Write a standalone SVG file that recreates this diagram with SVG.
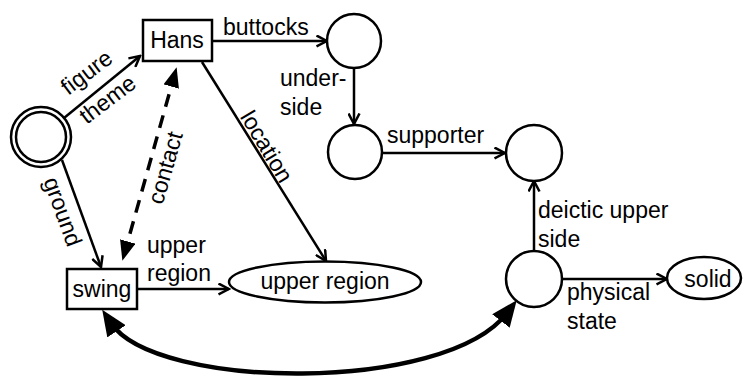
<svg xmlns="http://www.w3.org/2000/svg" width="744" height="376" viewBox="0 0 744 376">
<defs>
<style>
.n{fill:#fff;stroke:#000;stroke-width:2.5}
.e{fill:none;stroke:#000;stroke-width:2.5}
.t{font-family:"Liberation Sans",Arial,sans-serif;font-size:23px;fill:#000}
.m{text-anchor:middle}
</style>
<marker id="open" viewBox="0 0 13 13" refX="11.5" refY="6.5" markerWidth="13" markerHeight="13" markerUnits="userSpaceOnUse" orient="auto">
<path d="M1,1 L11.5,6.5 L1,12" fill="none" stroke="#000" stroke-width="2.5"/>
</marker>
<marker id="fill" viewBox="0 0 20 16" refX="14" refY="8" markerWidth="20" markerHeight="16" markerUnits="userSpaceOnUse" orient="auto-start-reverse">
<path d="M0,0 L20,8 L0,16 Z" fill="#000"/>
</marker>
<marker id="big" viewBox="0 0 26 22" refX="10" refY="11" markerWidth="26" markerHeight="22" markerUnits="userSpaceOnUse" orient="auto-start-reverse">
<path d="M0,0 L26,11 L0,22 Z" fill="#000"/>
</marker>
</defs>
<g id="connectors">
<line class="e" x1="64" y1="118" x2="140" y2="56" marker-end="url(#open)"/>
<line class="e" x1="62" y1="160" x2="101" y2="267" marker-end="url(#open)"/>
<line x1="124" y1="255" x2="175" y2="73" stroke="#000" stroke-width="3.5" stroke-dasharray="13,9" marker-start="url(#fill)" marker-end="url(#fill)"/>
<line class="e" x1="202" y1="62" x2="326" y2="261" marker-end="url(#open)"/>
<line class="e" x1="212" y1="41" x2="327" y2="41" marker-end="url(#open)"/>
<line class="e" x1="354" y1="68" x2="354" y2="124" marker-end="url(#open)"/>
<line class="e" x1="382" y1="153" x2="505" y2="153" marker-end="url(#open)"/>
<line class="e" x1="534" y1="251" x2="534" y2="181" marker-end="url(#open)"/>
<line class="e" x1="563" y1="279" x2="667" y2="279" marker-end="url(#open)"/>
<line class="e" x1="137" y1="289" x2="229" y2="289" marker-end="url(#open)"/>
<path d="M111,323 C155,390 445,394 507,313" fill="none" stroke="#000" stroke-width="4.5" marker-start="url(#big)" marker-end="url(#big)"/>
<text class="t m" transform="translate(87,73) rotate(-37)" y="7">figure</text>
<text class="t m" transform="translate(108,100) rotate(-37)" y="7">theme</text>
<text class="t m" transform="translate(62,212) rotate(70)" y="7">ground</text>
<text class="t m" transform="translate(166,168) rotate(-74)" y="7">contact</text>
<text class="t m" transform="translate(266,147) rotate(59)" y="7">location</text>
<text class="t" x="223" y="35">buttocks</text>
<text class="t" x="280" y="86">under-</text>
<text class="t" x="280" y="115">side</text>
<text class="t" x="387" y="143">supporter</text>
<text class="t" x="538" y="218">deictic upper</text>
<text class="t" x="538" y="247">side</text>
<text class="t" x="567" y="300">physical</text>
<text class="t" x="567" y="329">state</text>
<text class="t" x="147" y="253">upper</text>
<text class="t" x="147" y="281">region</text>
</g>
<g id="n0"><circle class="n" cx="41" cy="137" r="30"/><circle class="n" cx="41" cy="137" r="25"/></g>
<g id="hans"><rect class="n" x="143" y="20" width="69" height="41"/><text class="t m" x="177" y="48">Hans</text></g>
<g id="swing"><rect class="n" x="67" y="269" width="70" height="40"/><text class="t m" x="102" y="297">swing</text></g>
<g id="upperregion"><ellipse class="n" cx="325" cy="282" rx="96" ry="20.5"/><text class="t m" x="325" y="289">upper region</text></g>
<g id="c1"><circle class="n" cx="354" cy="41" r="27"/></g>
<g id="c2"><circle class="n" cx="355" cy="152" r="27"/></g>
<g id="c3"><circle class="n" cx="534" cy="153" r="28"/></g>
<g id="c4"><circle class="n" cx="534" cy="279" r="28"/></g>
<g id="solid"><ellipse class="n" cx="704" cy="278" rx="37" ry="21"/><text class="t m" x="708" y="287">solid</text></g>
</svg>
